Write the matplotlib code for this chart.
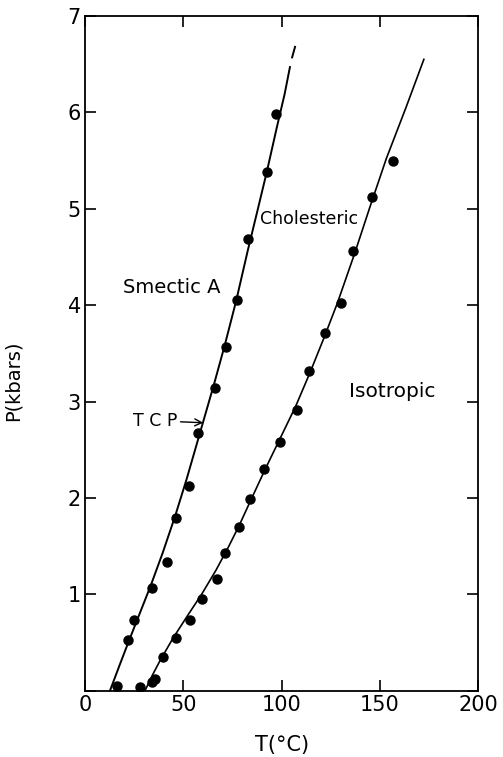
import numpy as np
import matplotlib.pyplot as plt

# Smectic A - Cholesteric boundary (measured points)
sa_T = [16.4, 22.0, 24.9, 34.1, 41.5, 46.3, 53.0, 57.3, 65.9, 71.5, 77.1, 83.0, 92.7, 97.3]
sa_P = [0.05, 0.53, 0.73, 1.07, 1.33, 1.79, 2.12, 2.67, 3.14, 3.57, 4.05, 4.69, 5.38, 5.98]
# drawn curve through them
sa_line_T = [12.7, 17.5, 22.0, 27.8, 33.4, 39.5, 45.8, 51.6, 57.4, 61.5, 65.6, 71.0,
             76.8, 82.8, 87.8, 92.4, 97.6, 101.5, 104.2]
sa_line_P = [0.0, 0.26, 0.50, 0.80, 1.09, 1.43, 1.81, 2.19, 2.60, 2.89, 3.18, 3.58,
             4.04, 4.57, 4.99, 5.38, 5.85, 6.19, 6.47]
sa_tip_T = [105.3, 106.8]
sa_tip_P = [6.57, 6.68]

# Cholesteric - Isotropic boundary
ci_T = [28.0, 33.9, 35.6, 39.5, 46.3, 53.4, 59.5, 67.0, 71.2, 78.1, 83.9,
        91.0, 99.3, 107.6, 113.9, 122.2, 130.3, 136.4, 145.8, 156.4]
ci_P = [0.04, 0.09, 0.12, 0.35, 0.55, 0.73, 0.95, 1.16, 1.43, 1.70, 1.99,
        2.30, 2.58, 2.91, 3.32, 3.71, 4.02, 4.56, 5.12, 5.50]
ci_line_T = [30.5, 34.0, 38.1, 44.6, 52.5, 59.3, 66.6, 72.9, 78.3, 83.7, 91.2,
             98.8, 107.1, 114.4, 121.5, 128.3, 137.0, 144.9, 153.2, 163.2, 172.3]
ci_line_P = [0.0, 0.15, 0.31, 0.54, 0.79, 1.00, 1.25, 1.49, 1.71, 1.95, 2.28,
             2.60, 2.95, 3.30, 3.66, 4.02, 4.53, 5.02, 5.52, 6.05, 6.55]

tcp = (60.1, 2.78)

fig = plt.figure(figsize=(5.03, 7.57), dpi=100)
ax = fig.add_axes([0.169, 0.0876, 0.782, 0.8913])

ax.plot(sa_line_T, sa_line_P, color='black', lw=1.4)
ax.plot(sa_tip_T, sa_tip_P, color='black', lw=1.4)
ax.plot(ci_line_T, ci_line_P, color='black', lw=1.2)
ax.plot(sa_T, sa_P, 'o', color='black', ms=6.5)
ax.plot(ci_T, ci_P, 'o', color='black', ms=6.5)

ax.text(89, 4.89, 'Cholesteric', fontsize=12.5, va='center', ha='left')
ax.text(19.2, 4.18, 'Smectic A', fontsize=14, va='center', ha='left')
ax.text(134.2, 3.10, 'Isotropic', fontsize=14.5, va='center', ha='left')
ax.annotate('T C P', xy=tcp, xytext=(24.6, 2.80), fontsize=12.5, va='center', ha='left',
            arrowprops=dict(arrowstyle='->', color='black', lw=1.0, shrinkA=0, shrinkB=0))

ax.set_xlim(0, 200)
ax.set_ylim(0, 7)
ax.set_xticks([0, 50, 100, 150, 200])
ax.set_yticks(range(8))
ax.set_yticklabels(['', '1', '2', '3', '4', '5', '6', '7'])
ax.tick_params(direction='in', length=8, width=1.2, labelsize=15,
               top=True, right=True, pad=3)
for s in ax.spines.values():
    s.set_linewidth(1.3)

ax.set_xlabel('T(°C)', fontsize=15)
ax.set_ylabel('P(kbars)', fontsize=14)
ax.xaxis.set_label_coords(0.5, -0.065)
ax.yaxis.set_label_coords(-0.158, 0.46)

fig.savefig('out.png', dpi=100)
